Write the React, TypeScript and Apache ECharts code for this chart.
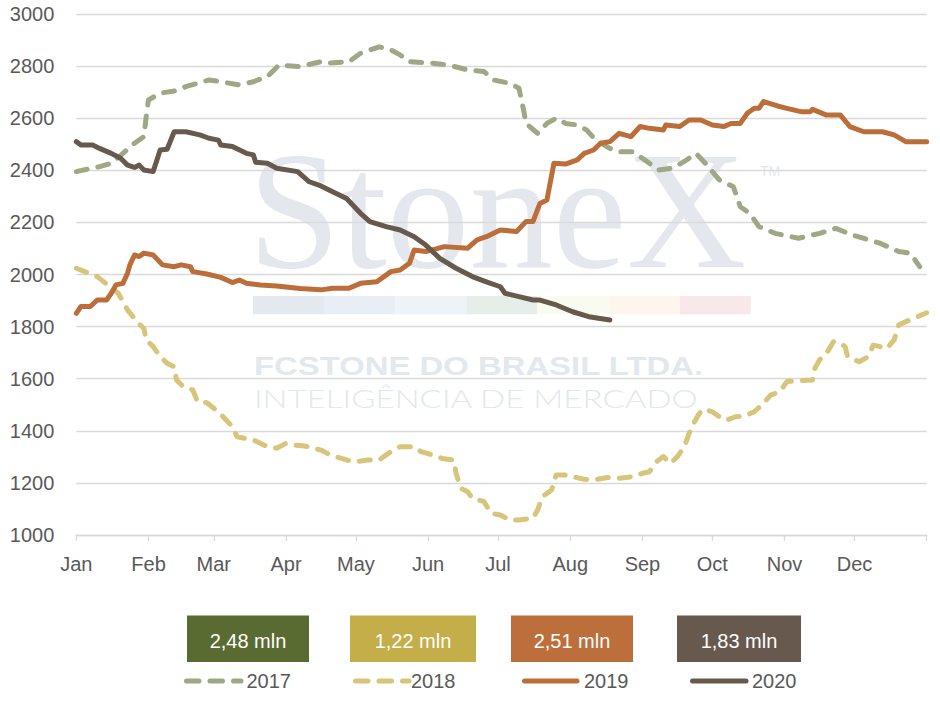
import React, { useEffect, useRef } from "react";
import * as echarts from "echarts";

const MONTHS = ["Jan", "Feb", "Mar", "Apr", "May", "Jun", "Jul", "Aug", "Sep", "Oct", "Nov", "Dec"];
const MONTH_START_DAYS = [0, 31, 59, 90, 120, 151, 181, 212, 243, 273, 304, 334];
const YEAR_END_DAY = 365;
const Y_TICKS = { min: 1000, max: 3000, step: 200 };

const SERIES_NAMES = ["2017", "2018", "2019", "2020"];
const BOX_LABELS = ["2,48 mln", "1,22 mln", "2,51 mln", "1,83 mln"];

// [day of year, value]
const s2017: [number, number][] = [
  [0, 2395], [10, 2414], [15, 2427], [20, 2465], [25, 2504], [29, 2529], [30, 2606], [31, 2670],
  [36, 2696], [43, 2706], [47, 2721], [57, 2747], [62, 2740], [70, 2728], [76, 2740], [82, 2760],
  [87, 2804], [96, 2798], [105, 2817], [107, 2811], [117, 2817], [122, 2849], [126, 2862], [130, 2874],
  [135, 2862], [139, 2843], [143, 2817], [153, 2811], [160, 2804], [168, 2785], [175, 2779], [179, 2747],
  [186, 2734], [190, 2715], [192, 2631], [193, 2580], [198, 2542], [202, 2580], [206, 2600], [210, 2580],
  [215, 2574], [219, 2555], [223, 2516], [229, 2484], [233, 2471], [239, 2471], [243, 2446], [250, 2401],
  [256, 2408], [262, 2440], [266, 2465], [270, 2427], [276, 2363], [282, 2337], [285, 2260], [289, 2235],
  [293, 2184], [300, 2158], [310, 2139], [319, 2158], [326, 2177], [333, 2152], [345, 2120], [353, 2088],
  [358, 2082], [362, 2030],
];

const s2018: [number, number][] = [
  [0, 2024], [9, 1992], [14, 1956], [18, 1928], [22, 1864], [26, 1819], [29, 1793], [30, 1749],
  [33, 1723], [36, 1685], [39, 1659], [42, 1646], [43, 1595], [46, 1569], [50, 1557], [52, 1512],
  [56, 1508], [60, 1480], [63, 1454], [67, 1416], [69, 1377], [76, 1365], [82, 1339], [86, 1333],
  [90, 1352], [93, 1346], [98, 1342], [105, 1326], [109, 1307], [116, 1288], [120, 1281], [125, 1288],
  [130, 1288], [135, 1320], [139, 1339], [145, 1339], [148, 1320], [153, 1307], [157, 1294], [162, 1288],
  [163, 1237], [165, 1179], [168, 1166], [170, 1141], [175, 1128], [178, 1083], [182, 1077], [186, 1058],
  [190, 1058], [196, 1064], [198, 1096], [200, 1147], [204, 1173], [206, 1230], [210, 1230], [218, 1214],
  [222, 1211], [228, 1221], [233, 1218], [239, 1224], [243, 1237], [246, 1243], [249, 1281], [252, 1301],
  [255, 1275], [258, 1301], [261, 1339], [263, 1390], [265, 1429], [267, 1461], [269, 1483], [273, 1473],
  [276, 1454], [279, 1441], [283, 1454], [287, 1457], [291, 1473], [295, 1506], [298, 1537], [302, 1550],
  [305, 1589], [311, 1593], [316, 1595], [317, 1640], [319, 1672], [322, 1698], [325, 1742], [328, 1736],
  [330, 1723], [331, 1685], [336, 1665], [340, 1685], [342, 1729], [348, 1717], [351, 1749], [353, 1806],
  [356, 1819], [361, 1838], [365, 1853],
];

const s2019: [number, number][] = [
  [0, 1851], [2, 1877], [6, 1877], [9, 1902], [13, 1902], [15, 1928], [17, 1960], [20, 1966],
  [22, 2005], [23, 2037], [25, 2075], [27, 2069], [29, 2082], [33, 2075], [37, 2037], [42, 2030],
  [45, 2037], [49, 2030], [50, 2011], [56, 2002], [62, 1989], [67, 1969], [70, 1979], [73, 1966],
  [79, 1960], [86, 1956], [96, 1946], [105, 1941], [110, 1947], [117, 1947], [122, 1966], [129, 1972],
  [135, 2011], [139, 2017], [143, 2043], [145, 2094], [150, 2088], [158, 2107], [168, 2101], [172, 2133],
  [176, 2145], [182, 2171], [189, 2165], [193, 2203], [196, 2203], [199, 2273], [202, 2286], [205, 2427],
  [210, 2424], [215, 2440], [218, 2465], [222, 2478], [225, 2504], [229, 2510], [233, 2542], [238, 2529],
  [242, 2568], [246, 2561], [252, 2555], [253, 2574], [259, 2568], [263, 2593], [268, 2593], [273, 2574],
  [278, 2568], [281, 2580], [285, 2580], [288, 2619], [291, 2638], [293, 2638], [295, 2664], [301, 2647],
  [305, 2638], [311, 2625], [315, 2625], [316, 2634], [322, 2612], [328, 2612], [332, 2568], [338, 2548],
  [346, 2548], [351, 2536], [356, 2510], [365, 2510],
];

const s2020: [number, number][] = [
  [0, 2510], [2, 2497], [7, 2497], [10, 2484], [15, 2465], [19, 2446], [22, 2420], [25, 2411],
  [27, 2420], [29, 2401], [33, 2395], [36, 2478], [39, 2481], [42, 2548], [47, 2548], [53, 2536],
  [57, 2523], [61, 2516], [62, 2497], [67, 2491], [73, 2465], [76, 2459], [77, 2431], [82, 2427],
  [86, 2408], [95, 2395], [100, 2356], [105, 2340], [110, 2318], [116, 2292], [122, 2235], [126, 2203],
  [133, 2184], [139, 2171], [145, 2145], [150, 2113], [156, 2062], [163, 2024], [170, 1992], [176, 1972],
  [182, 1953], [184, 1928], [190, 1915], [196, 1902], [199, 1902], [206, 1883], [213, 1857], [220, 1838],
  [229, 1825],
];

const LINE_COLORS = ["#9EA884", "#D6C57A", "#BC6E3A", "#675A4D"];
const BOX_COLORS = ["#596B30", "#C3AE49", "#BC6F3B", "#67594D"];
const WATERMARK_BAR = ["#E4E8EF", "#E9EDF5", "#EEF3F8", "#E5EEE9", "#FAFBEF", "#FEF6EC", "#F8E8E9"];

const FONT = '"Liberation Sans", Arial, sans-serif';
const TEXT_COLOR = "#595959";
const GRID_COLOR = "#D9D9D9";
const LINE_WIDTH = 5;
const DASH = [11, 11];

export default function App() {
  const ref = useRef<HTMLDivElement>(null);

  useEffect(() => {
    if (!ref.current) return;
    const chart = echarts.init(ref.current, null, { renderer: "svg" });

    const seriesData = [s2017, s2018, s2019, s2020];
    const dashed = [true, true, false, false];

    const boxRects = [
      { x: 187, w: 122 },
      { x: 350, w: 126 },
      { x: 511, w: 122 },
      { x: 677, w: 124 },
    ];

    const boxes = BOX_LABELS.map((label, i) => ({
      type: "group",
      z: 10,
      children: [
        {
          type: "rect",
          shape: { x: boxRects[i].x, y: 615.5, width: boxRects[i].w, height: 46.5 },
          style: { fill: BOX_COLORS[i] },
        },
        {
          type: "text",
          x: boxRects[i].x + boxRects[i].w / 2,
          y: 641,
          style: {
            text: label,
            fill: "#FFFFFF",
            font: `20px ${FONT}`,
            align: "center",
            verticalAlign: "middle",
          },
        },
      ],
    }));

    const legendItems = [
      { x1: 186.5, x2: 241, tx: 246.5 },
      { x1: 355.5, x2: 409, tx: 411 },
      { x1: 524.5, x2: 577, tx: 584 },
      { x1: 692.5, x2: 746, tx: 752 },
    ];
    const legend = SERIES_NAMES.map((name, i) => ({
      type: "group",
      z: 10,
      children: [
        {
          type: "line",
          shape: { x1: legendItems[i].x1, y1: 681, x2: legendItems[i].x2, y2: 681 },
          style: {
            stroke: LINE_COLORS[i],
            lineWidth: LINE_WIDTH,
            lineCap: "round",
            lineDash: dashed[i] ? [12.5, 11] : null,
          },
        },
        {
          type: "text",
          x: legendItems[i].tx,
          y: 681,
          style: {
            text: name,
            fill: TEXT_COLOR,
            font: `20px ${FONT}`,
            align: "left",
            verticalAlign: "middle",
          },
        },
      ],
    }));

    const barSegs = WATERMARK_BAR.map((c, i) => ({
      type: "rect",
      z: -10,
      shape: { x: 253 + i * 71.1, y: 296, width: 71.1, height: 18.3 },
      style: { fill: c },
    }));

    const watermark = [
      {
        type: "text",
        z: -10,
        x: 248,
        y: 211,
        scaleX: 0.995,
        style: {
          text: "StoneX",
          fill: "#E4E8EE",
          font: `167px "Liberation Serif", "DejaVu Serif", serif`,
          align: "left",
          verticalAlign: "middle",
        },
      },
      {
        type: "text",
        z: -10,
        x: 760,
        y: 171,
        style: {
          text: "TM",
          fill: "#E3E7ED",
          font: `14px ${FONT}`,
          align: "left",
          verticalAlign: "middle",
        },
      },
      ...barSegs,
      {
        type: "text",
        z: -10,
        x: 254,
        y: 366,
        scaleX: 1.315,
        style: {
          text: "FCSTONE DO BRASIL LTDA.",
          fill: "#E3E7EE",
          font: `bold 25px ${FONT}`,
          align: "left",
          verticalAlign: "middle",
        },
      },
      {
        type: "text",
        z: -10,
        x: 254,
        y: 398,
        scaleX: 1.322,
        style: {
          text: "INTELIGÊNCIA DE MERCADO",
          fill: "#E3E7EE",
          font: `300 25px Lato, ${FONT}`,
          align: "left",
          verticalAlign: "middle",
        },
      },
    ];

    chart.setOption({
      animation: false,
      backgroundColor: "#FFFFFF",
      textStyle: { fontFamily: FONT },
      grid: { left: 76.3, right: 13.3, top: 14, bottom: 182, containLabel: false },
      graphic: { elements: [...watermark, ...boxes, ...legend] },
      xAxis: {
        type: "value",
        min: 0,
        max: YEAR_END_DAY,
        axisLine: { show: true, onZero: false, lineStyle: { color: GRID_COLOR, width: 1.3 } },
        axisTick: {
          show: true,
          customValues: [...MONTH_START_DAYS, YEAR_END_DAY],
          length: 6,
          lineStyle: { color: GRID_COLOR, width: 1.3 },
        },
        axisLabel: {
          customValues: MONTH_START_DAYS,
          formatter: (v: number) => MONTHS[MONTH_START_DAYS.indexOf(v)] ?? "",
          color: TEXT_COLOR,
          fontSize: 20,
          fontFamily: FONT,
          margin: 19,
        },
        splitLine: { show: false },
      },
      yAxis: {
        type: "value",
        min: Y_TICKS.min,
        max: Y_TICKS.max,
        interval: Y_TICKS.step,
        axisLine: { show: false },
        axisTick: { show: false },
        axisLabel: {
          color: TEXT_COLOR,
          fontSize: 20,
          fontFamily: FONT,
          margin: 22,
          formatter: (v: number) => String(v),
        },
        splitLine: { lineStyle: { color: GRID_COLOR, width: 1.3 } },
      },
      series: SERIES_NAMES.map((name, i) => ({
        name,
        type: "line",
        data: seriesData[i],
        symbol: "none",
        showSymbol: false,
        smooth: false,
        color: LINE_COLORS[i],
        emphasis: { disabled: true },
        lineStyle: {
          color: LINE_COLORS[i],
          width: LINE_WIDTH,
          type: dashed[i] ? DASH : "solid",
          cap: "round",
          join: "round",
        },
        z: 2 + i,
      })),
    });

    return () => chart.dispose();
  }, []);

  return (
    <div
      ref={ref}
      style={{ position: "fixed", left: 0, top: 0, width: 940, height: 717, background: "#fff" }}
    />
  );
}
